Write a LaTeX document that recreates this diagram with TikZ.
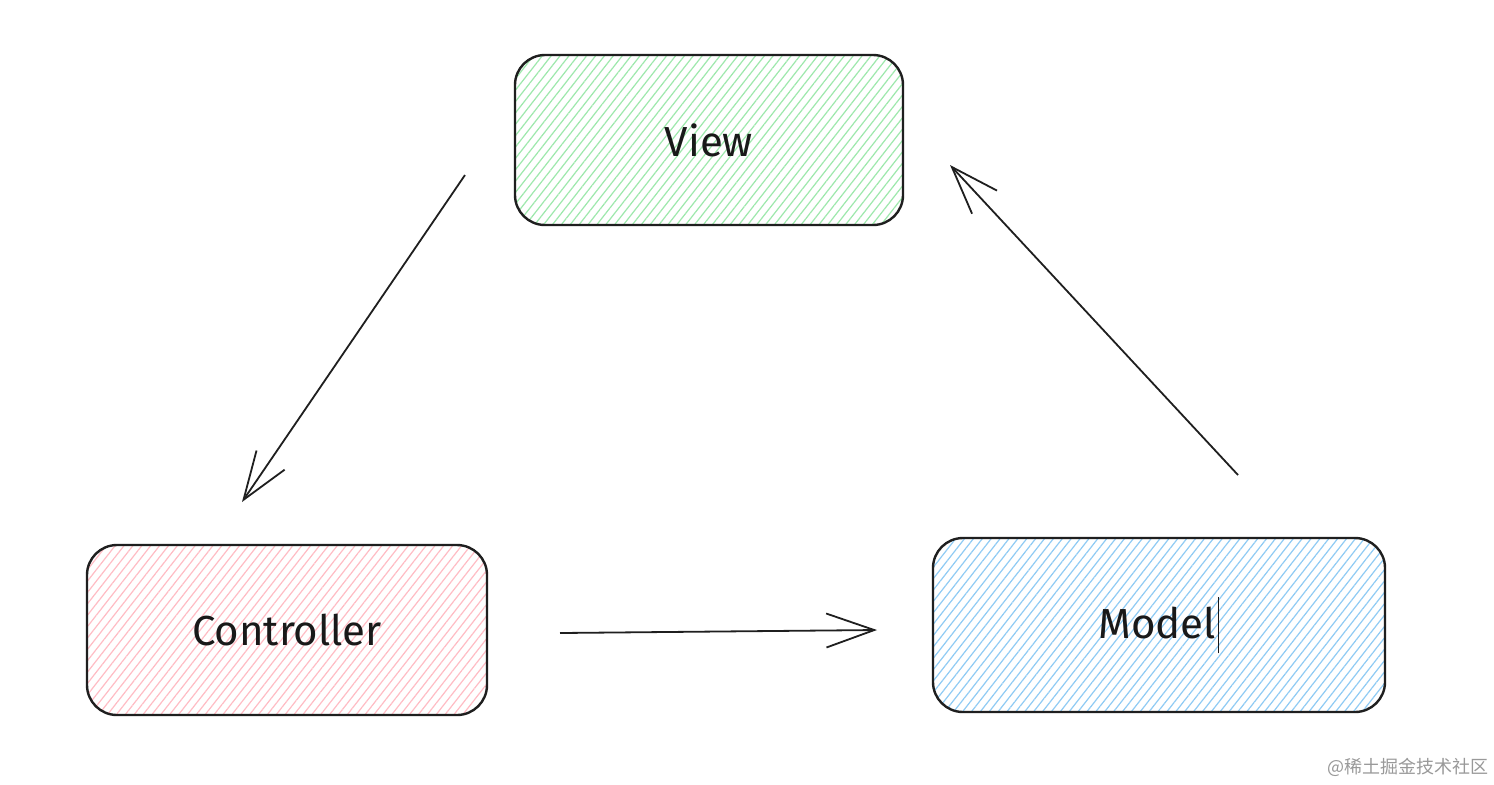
\documentclass[tikz,border=0pt]{standalone}
\usepackage{fontspec}
\setmainfont{Fira Sans}
\newfontfamily\cjk{Noto Sans CJK SC}
\usepackage{xcolor}
\usetikzlibrary{arrows.meta,patterns.meta}
\definecolor{viewgreen}{HTML}{9DE8AC}
\definecolor{ctrlpink}{HTML}{FFBCC4}
\definecolor{modelblue}{HTML}{8FCBF4}

\begin{document}
\begin{tikzpicture}[x=0.5pt, y=-0.5pt,
    box/.style={draw=black!88, line width=1.2pt, rounded corners=15pt,
        font=\fontsize{21}{24}\selectfont, text=black!90},
    hatch/.style={pattern={Lines[angle=52,distance=3.5pt,line width=0.6pt]}, pattern color=#1},
    arr/.style={draw=black!88, line width=0.9pt, -{Straight Barb[length=24pt,width=17pt,line width=0.9pt]}}]
    \fill[white] (0,0) rectangle (1494,784);
    \useasboundingbox (0,0) rectangle (1494,784);

    \node[box, hatch=viewgreen, minimum width=194pt, minimum height=85pt] (view) at (709,140) {View};
    \node[box, hatch=ctrlpink, minimum width=200pt, minimum height=85pt] (controller) at (287,630) {Controller};
    \node[box, hatch=modelblue, minimum width=226pt, minimum height=87pt] (model) at (1159,625)
        {Model\kern1pt\rule[-0.35em]{0.7pt}{1.35em}};

    \coordinate (v2c start) at (465,175);
    \coordinate (v2c end) at (242,502);
    \coordinate (c2m start) at (560,633);
    \coordinate (c2m end) at (877,630);
    \coordinate (m2v start) at (1238,475);
    \coordinate (m2v end) at (950,165);

    \draw[arr] (v2c start) -- (v2c end);
    \draw[arr] (c2m start) -- (c2m end);
    \draw[arr] (m2v start) -- (m2v end);

    \node[anchor=east, inner sep=0pt, text=black!40, font=\cjk\fontsize{9}{11}\selectfont] (mark) at (1489,767) {@稀土掘金技术社区};
\end{tikzpicture}
\end{document}
